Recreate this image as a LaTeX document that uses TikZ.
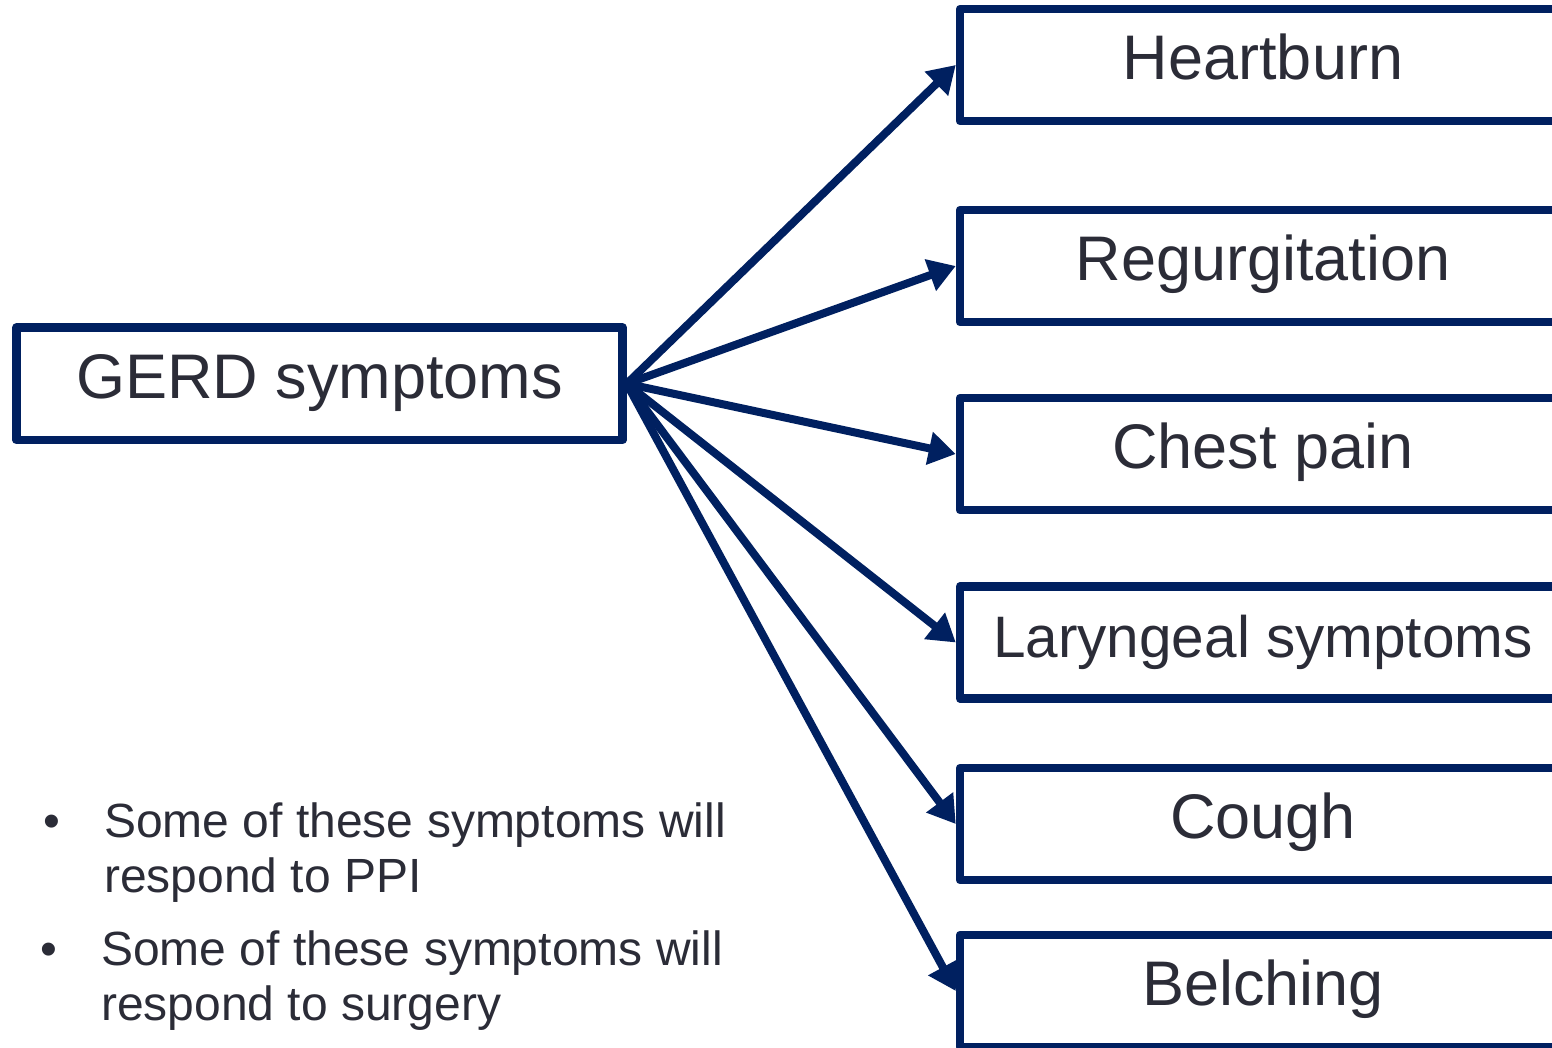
\documentclass[tikz,border=0pt]{standalone}
\usepackage{fontspec}
\setmainfont{Liberation Sans}
\usetikzlibrary{arrows.meta}
\definecolor{navy}{HTML}{002060}
\definecolor{ink}{HTML}{2B2C37}
\begin{document}
\begin{tikzpicture}[x=1pt,y=-1pt,
  box/.style={draw=navy, line width=8.5pt, line join=round, rectangle, inner sep=0pt, text=ink,
    font=\fontsize{63}{70}\selectfont, text height=45pt, text depth=16pt},
  symbox/.style={box, minimum width=606pt, minimum height=112pt},
  link/.style={draw=navy, line width=8pt, -{Triangle[length=27pt,width=32pt]}},
  bullettext/.style={anchor=base west, inner sep=0pt, text=ink, font=\fontsize{48}{55}\selectfont},
]
\useasboundingbox (0,0) rectangle (1552,1048);
\clip (0,0) rectangle (1552,1048);

% source box
\node[box, minimum width=606pt, minimum height=112.5pt] (gerd) at (319.5,383.75) {GERD symptoms};

% symptom boxes (run past the right edge)
\node[symbox] (heart) at (1263,65)   {Heartburn};
\node[symbox] (regurg) at (1263,266) {Regurgitation};
\node[symbox] (chest) at (1263,454)  {Chest pain};
\node[symbox, font=\fontsize{58.5}{65}\selectfont] (laryn) at (1263,642.5) {Laryngeal symptoms};
\node[symbox] (cough) at (1263,824)  {Cough};
\node[symbox] (belch) at (1263,991)  {Belching};

% connectors
\foreach \t in {heart,regurg,chest,laryn,cough,belch}
  \draw[link] (gerd.east) -- (\t.west);

% notes
\node[bullettext] (d1) at (43,837) {•};
\node[bullettext] (n1a) at (104,837) {Some of these symptoms will};
\node[bullettext] (n1b) at (104,892) {respond to PPI};
\node[bullettext] (d2) at (40,965) {•};
\node[bullettext] (n2a) at (101,965) {Some of these symptoms will};
\node[bullettext] (n2b) at (101,1020) {respond to surgery};
\end{tikzpicture}
\end{document}
